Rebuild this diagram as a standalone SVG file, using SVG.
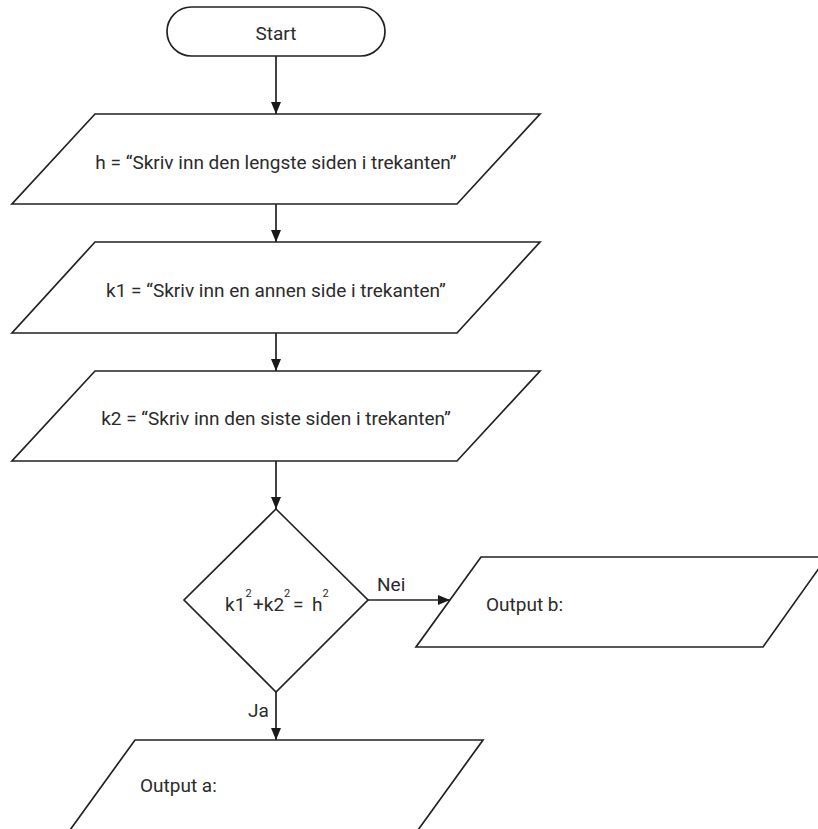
<svg xmlns="http://www.w3.org/2000/svg" width="818" height="829" viewBox="0 0 818 829">
  <defs>
    <style>
      .shape { fill: #ffffff; stroke: #222222; stroke-width: 1.7; stroke-linejoin: miter; }
      .conn { stroke: #222222; stroke-width: 1.7; fill: none; marker-end: url(#arrow); }
      .lbl { font-family: Roboto, "Liberation Sans", sans-serif; font-size: 19px; fill: #2b2b2b; }
      .mid { text-anchor: middle; }
      .sup { font-family: Roboto, "Liberation Sans", sans-serif; font-size: 11px; fill: #2b2b2b; }
    </style>
    <marker id="arrow" viewBox="0 0 12 10" refX="12" refY="5" markerWidth="12" markerHeight="10" markerUnits="userSpaceOnUse" orient="auto">
      <path d="M0,0 L12,5 L0,10 Z" fill="#1a1a1a"/>
    </marker>
  </defs>
  <rect x="0" y="0" width="818" height="829" fill="#ffffff"/>

  <g id="connectors">
    <line class="conn" x1="276" y1="56" x2="276" y2="114"/>
    <line class="conn" x1="276" y1="204" x2="276" y2="242"/>
    <line class="conn" x1="276" y1="333" x2="276" y2="371"/>
    <line class="conn" x1="276" y1="461" x2="276" y2="509"/>
    <line class="conn" x1="368" y1="600" x2="450" y2="600"/>
    <line class="conn" x1="276" y1="692" x2="276" y2="740"/>
    <text class="lbl" x="377" y="591">Nei</text>
    <text class="lbl" x="248" y="717">Ja</text>
  </g>

  <g id="start">
    <rect class="shape" x="167" y="7" width="218" height="49" rx="24.5" ry="24.5"/>
    <text class="lbl mid" x="276" y="39.5">Start</text>
  </g>

  <g id="input-h">
    <polygon class="shape" points="95,114 540,114 457,204 12,204"/>
    <text class="lbl mid" x="276" y="169">h = “Skriv inn den lengste siden i trekanten”</text>
  </g>

  <g id="input-k1">
    <polygon class="shape" points="95,242 540,242 457,333 12,333"/>
    <text class="lbl mid" x="276" y="297">k1 = “Skriv inn en annen side i trekanten”</text>
  </g>

  <g id="input-k2">
    <polygon class="shape" points="95,371 540,371 457,461 12,461"/>
    <text class="lbl mid" x="276" y="425">k2 = “Skriv inn den siste siden i trekanten”</text>
  </g>

  <g id="decision">
    <polygon class="shape" points="276,509 368,600 276,692 184,600"/>
    <text class="lbl" x="225" y="611">k1</text>
    <text class="sup" x="245.5" y="597">2</text>
    <text class="lbl" x="253" y="611">+k2</text>
    <text class="sup" x="284" y="597">2</text>
    <text class="lbl" x="293" y="611">=</text>
    <text class="lbl" x="312" y="611">h</text>
    <text class="sup" x="322.5" y="597">2</text>
  </g>

  <g id="output-b">
    <polygon class="shape" points="481,557 827,557 763,647 416,647"/>
    <text class="lbl" x="486" y="611">Output b:</text>
  </g>

  <g id="output-a">
    <polygon class="shape" points="135,740 483,740 418,830 70,830"/>
    <text class="lbl" x="140" y="792">Output a:</text>
  </g>
</svg>
